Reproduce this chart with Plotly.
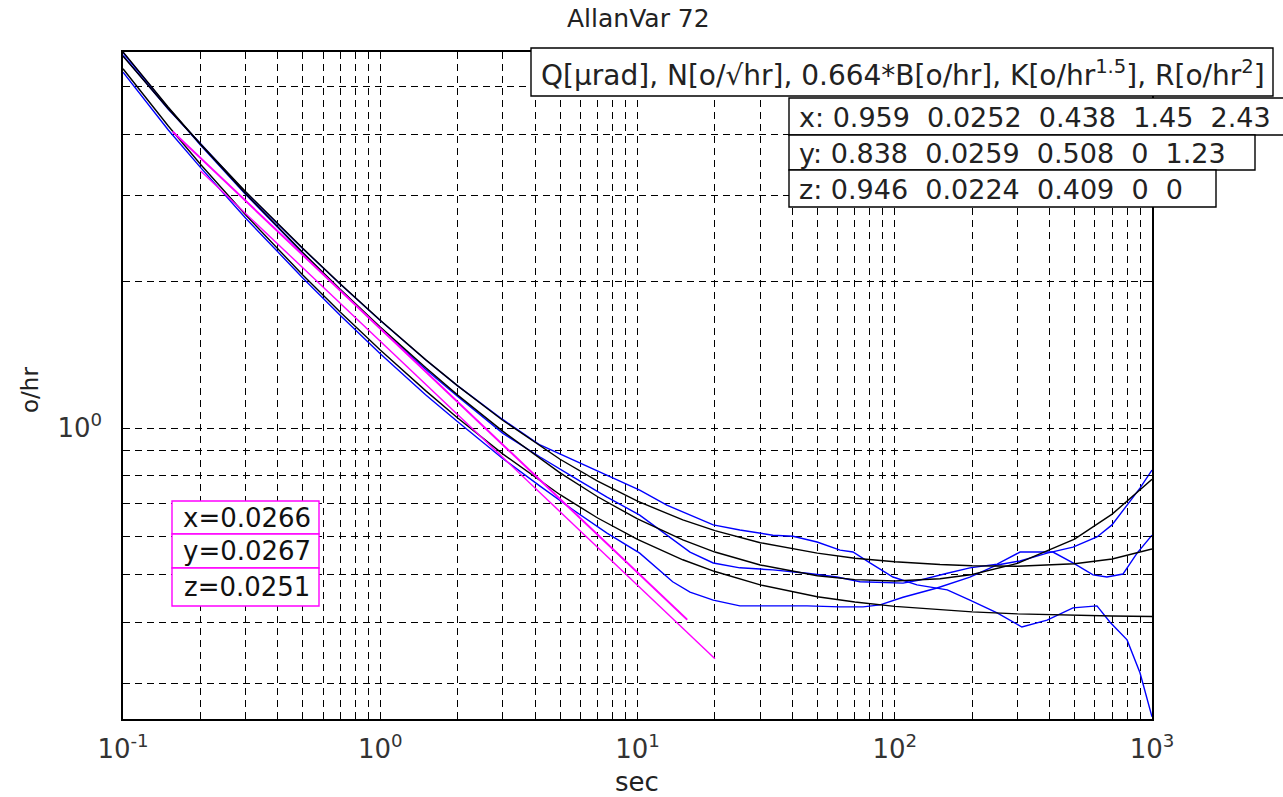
import plotly.graph_objects as go

# ---------------- data ----------------
tau_fit = [0.1, 0.15, 0.2, 0.3, 0.5, 0.7, 1, 1.5, 2, 3, 5, 7, 10, 15, 20, 30, 50, 70,
           100, 150, 200, 300, 500, 700, 1000]
fit_x = [5.898, 4.544, 3.815, 3.019, 2.288, 1.923, 1.611, 1.330, 1.168, 0.984, 0.809, 0.723,
         0.651, 0.590, 0.557, 0.524, 0.498, 0.489, 0.486, 0.491, 0.501, 0.528, 0.592, 0.666, 0.785]
fit_y = [5.777, 4.510, 3.818, 3.050, 2.334, 1.973, 1.662, 1.381, 1.220, 1.036, 0.863, 0.778,
         0.708, 0.648, 0.616, 0.582, 0.554, 0.541, 0.532, 0.525, 0.522, 0.521, 0.527, 0.539, 0.565]
fit_z = [5.446, 4.158, 3.472, 2.731, 2.058, 1.727, 1.445, 1.193, 1.048, 0.884, 0.730, 0.654,
         0.591, 0.537, 0.508, 0.477, 0.451, 0.440, 0.431, 0.424, 0.420, 0.416, 0.413, 0.412, 0.411]

tau_a = [0.1, 0.15, 0.2, 0.3, 0.5, 0.7, 1, 1.5, 2, 3, 4.18, 5.61, 7.61, 10.2, 13.0, 16.0, 19.7,
         25.0, 33.6, 40.2, 49.9, 61.3, 68.8, 80.1, 98.4, 122, 160, 196, 250, 312, 391, 493,
         611, 687, 800, 898, 1000]
dev_a = [5.80, 4.50, 3.83, 3.04, 2.33, 1.97, 1.66, 1.38, 1.22, 1.04, 0.923, 0.860, 0.801, 0.746,
         0.695, 0.663, 0.633, 0.618, 0.603, 0.600, 0.584, 0.562, 0.557, 0.529, 0.495, 0.477,
         0.466, 0.444, 0.418, 0.391, 0.404, 0.428, 0.432, 0.400, 0.368, 0.315, 0.256]

tau_b = [0.1, 0.15, 0.2, 0.3, 0.5, 0.7, 1, 1.5, 2, 3, 4.18, 5.61, 7.61, 10.2, 13.7, 16.0, 19.7,
         25.0, 33.6, 45.6, 59.6, 73.3, 107.7, 125, 160, 196, 250, 307, 412, 493, 590, 668,
         771, 875, 1000]
dev_b = [5.88, 4.53, 3.80, 3.01, 2.28, 1.92, 1.60, 1.32, 1.16, 0.975, 0.872, 0.794, 0.722,
         0.663, 0.590, 0.557, 0.529, 0.517, 0.512, 0.504, 0.495, 0.484, 0.481, 0.488, 0.504,
         0.517, 0.526, 0.557, 0.557, 0.529, 0.500, 0.495, 0.502, 0.554, 0.603]

tau_c = [0.1, 0.15, 0.2, 0.3, 0.5, 0.7, 1, 1.5, 2, 3, 4.18, 5.61, 7.61, 10.2, 13.7, 16.0, 19.7,
         25.0, 33.6, 45.6, 61.3, 75.3, 87.7, 107.7, 146, 196, 250, 307, 391, 493, 611, 699,
         800, 898, 1000]
dev_c = [5.36, 4.08, 3.42, 2.69, 2.03, 1.70, 1.42, 1.17, 1.03, 0.865, 0.760, 0.680, 0.609,
         0.554, 0.484, 0.461, 0.444, 0.432, 0.432, 0.432, 0.430, 0.430, 0.434, 0.450, 0.470,
         0.495, 0.524, 0.534, 0.554, 0.570, 0.598, 0.633, 0.695, 0.753, 0.820]

# angle random walk reference lines (end points)
arw_tau_xy = [0.156, 15.6]
arw_x = [4.041, 0.4041]
arw_y = [4.056, 0.4056]
arw_tau_z = [0.2, 20]
arw_z = [3.367, 0.3368]

title_text = "AllanVar 72"
x_label = "sec"
y_label = "o/hr"
coef_header = "Q[µrad], N[o/√hr], 0.664*B[o/hr], K[o/hr<sup>1.5</sup>], R[o/hr<sup>2</sup>]"
coef_rows = ["x: 0.959  0.0252  0.438  1.45  2.43",
             "y: 0.838  0.0259  0.508  0  1.23",
             "z: 0.946  0.0224  0.409  0  0"]
arw_rows = ["x=0.0266", "y=0.0267", "z=0.0251"]

x_major = [0.1, 1, 10, 100, 1000]
x_major_text = ["10<sup>-1</sup>", "10<sup>0</sup>", "10<sup>1</sup>", "10<sup>2</sup>",
                "10<sup>3</sup>"]
x_minor = [0.2, 0.3, 0.4, 0.5, 0.6, 0.7, 0.8, 0.9,
           2, 3, 4, 5, 6, 7, 8, 9,
           20, 30, 40, 50, 60, 70, 80, 90,
           200, 300, 400, 500, 600, 700, 800, 900]
y_major = [1]
y_major_text = ["10<sup>0</sup>"]
y_minor = [0.3, 0.4, 0.5, 0.6, 0.7, 0.8, 0.9, 2, 3, 4, 5]

# ---------------- layout geometry ----------------
W, H = 1283, 797
L, Rm, T, Bm = 123, 131, 52, 78
PW, PH = W - L - Rm, H - T - Bm
FONT = "DejaVu Sans"
GRID_DASH = "7px,5px"


def px(xp):
    return (xp - L) / PW


def py(yp):
    return (H - Bm - yp) / PH


fig = go.Figure()

for t, v in [(tau_a, dev_a), (tau_b, dev_b), (tau_c, dev_c)]:
    fig.add_trace(go.Scatter(x=t, y=v, mode="lines",
                             line=dict(color="#0000ff", width=1.4), hoverinfo="skip"))
for v in [fit_x, fit_y, fit_z]:
    fig.add_trace(go.Scatter(x=tau_fit, y=v, mode="lines",
                             line=dict(color="#000000", width=1.4), hoverinfo="skip"))
for t, v in [(arw_tau_xy, arw_x), (arw_tau_xy, arw_y), (arw_tau_z, arw_z)]:
    fig.add_trace(go.Scatter(x=t, y=v, mode="lines",
                             line=dict(color="#ff00ff", width=1.4), hoverinfo="skip"))

axis_common = dict(
    type="log", showgrid=True, gridcolor="#000000", gridwidth=1, griddash=GRID_DASH,
    zeroline=False, showline=True, linecolor="black", linewidth=1.5, mirror="ticks",
    ticks="inside", ticklen=7, tickcolor="black", tickwidth=1, automargin=False,
    tickfont=dict(family=FONT, size=26, color="#333333"),
)
minor_common = dict(showgrid=True, gridcolor="#000000", gridwidth=1, griddash=GRID_DASH,
                    ticks="inside", ticklen=4, tickcolor="black", tickwidth=1)

fig.update_xaxes(**axis_common, range=[-1, 3], tickvals=x_major, ticktext=x_major_text,
                 ticklabelstandoff=6, minor=dict(tickvals=x_minor, **minor_common))
fig.update_yaxes(**axis_common, range=[-0.5963, 0.7705], tickvals=y_major,
                 ticktext=y_major_text, ticklabelstandoff=14,
                 minor=dict(tickvals=y_minor, **minor_common))

shapes = []
annotations = []


def box(x0, y0, x1, y1, color):
    shapes.append(dict(type="rect", xref="paper", yref="paper",
                       x0=px(x0), x1=px(x1), y0=py(y1), y1=py(y0),
                       line=dict(color=color, width=1.4), fillcolor="white", layer="above"))


def label(text, xp, yp, size, xanchor="center", angle=0, color="#222222"):
    annotations.append(dict(text=text, xref="paper", yref="paper", x=px(xp), y=py(yp),
                            xanchor=xanchor, yanchor="middle", showarrow=False,
                            textangle=angle, font=dict(family=FONT, size=size, color=color)))


# coefficient boxes (top right)
box(531, 48, 1273, 96, "black")
label(coef_header, 903, 73, 28)
box(789, 98, 1300, 135, "black")
box(789, 135, 1255, 170, "black")
box(789, 170, 1216, 207, "black")
for row, yc in zip(coef_rows, [117, 153, 189]):
    label(row.replace("  ", " \u00a0"), 797, yc, 27, xanchor="left")

# ARW boxes (lower left)
for (y0, y1), row in zip([(501, 534), (534, 568), (568, 606)], arw_rows):
    box(172, y0, 319, y1, "#ff00ff")
    label(row, 247, (y0 + y1) / 2, 26, color="#111111")

label(title_text, 638, 18, 25)
label(x_label, 637, 782, 26)
label(y_label, 30, 390, 23, angle=-90)

fig.update_layout(
    width=W, height=H, autosize=False,
    margin=dict(l=L, r=Rm, t=T, b=Bm, pad=0),
    paper_bgcolor="white", plot_bgcolor="white",
    showlegend=False, shapes=shapes, annotations=annotations,
    hovermode=False,
)

fig.write_html("out.html", config={"displayModeBar": False},
               post_script="document.body.style.margin='0px';"
                           "document.body.style.overflow='hidden';")
